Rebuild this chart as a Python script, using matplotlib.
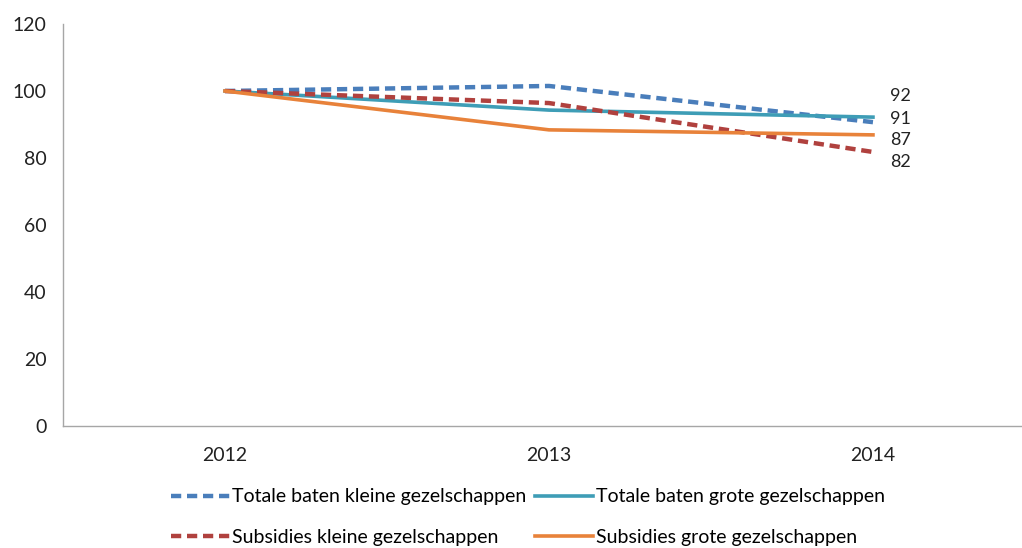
import matplotlib.pyplot as plt

years = ["2012", "2013", "2014"]
totaal_klein = [100, 101.5, 90.7]
totaal_groot = [100, 94.3, 92.2]
subsidie_klein = [100, 96.4, 81.8]
subsidie_groot = [100, 88.4, 86.9]
end_labels = ["91", "92", "82", "87"]

plt.rcParams['font.family'] = ['Lato', 'DejaVu Sans']

fig = plt.figure(figsize=(10.22, 5.48), dpi=100)
ax = fig.add_axes([63 / 1022, 1 - 426 / 548, 1 - 63 / 1022, 402 / 548])

x = range(len(years))
l1, = ax.plot(x, totaal_klein, color='#4A7EBB', lw=3.2, ls=(0, (2.3, 1.3)),
              label="Totale baten kleine gezelschappen")
l2, = ax.plot(x, totaal_groot, color='#3E9DB6', lw=2.6,
              label="Totale baten grote gezelschappen")
l3, = ax.plot(x, subsidie_klein, color='#B0413E', lw=3.2, ls=(0, (2.3, 1.3)),
              label="Subsidies kleine gezelschappen")
l4, = ax.plot(x, subsidie_groot, color='#E8823A', lw=2.6,
              label="Subsidies grote gezelschappen")

# labels at the last point, offsets in points
series = [totaal_klein, totaal_groot, subsidie_klein, subsidie_groot]
offsets = [2, 15, -7, -4]
for s, lab, dy in zip(series, end_labels, offsets):
    ax.annotate(lab, (2, s[-1]), xytext=(12, dy), textcoords='offset points',
                fontsize=13, va='center', ha='left', color='#222222')

ax.set_ylim(0, 120)
ax.set_yticks(range(0, 121, 20))
ax.set_xlim(-0.5, 2.46)
ax.set_xticks(list(x))
ax.set_xticklabels(years)
ax.tick_params(axis='both', length=0, labelsize=14, colors='#222222')
ax.tick_params(axis='y', pad=12)
ax.tick_params(axis='x', pad=15)
for side in ['top', 'right']:
    ax.spines[side].set_visible(False)
for side in ['left', 'bottom']:
    ax.spines[side].set_color('#A6A6A6')
    ax.spines[side].set_linewidth(1)

# column-wise fill: pass in order so rows read l1 l2 / l3 l4
fig.legend(handles=[l1, l3, l2, l4], ncol=2, loc='center',
           bbox_to_anchor=(528 / 1022, 1 - 517 / 548), frameon=False,
           fontsize=14, handlelength=3.0, handletextpad=0.15,
           columnspacing=0.4, labelspacing=1.2)

fig.savefig('out.png', dpi=100)
plt.close()
